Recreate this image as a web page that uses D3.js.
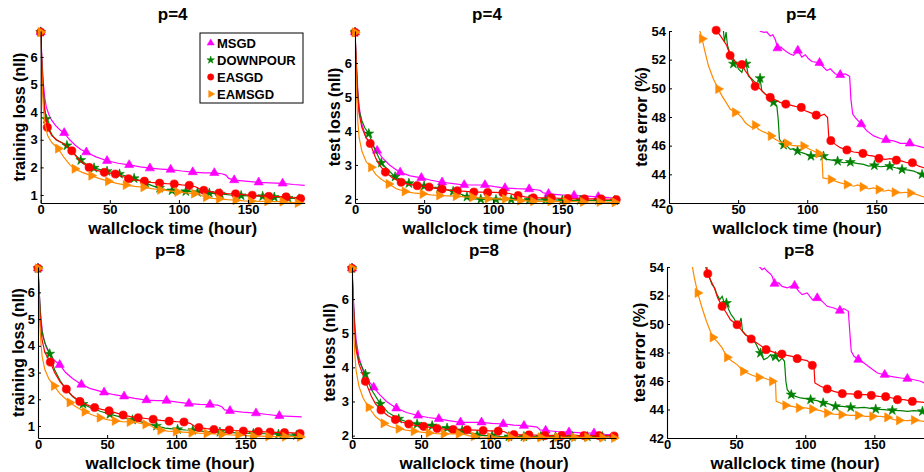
<!DOCTYPE html>
<html><head><meta charset="utf-8">
<script src="https://cdn.jsdelivr.net/npm/d3@7"></script>
<style>
body{margin:0;background:#fff}
svg{display:block;background:#fff}
text{font-family:"Liberation Sans",Arial,Helvetica,sans-serif;font-weight:bold;fill:#000}
</style>
</head><body>
<svg id="c" width="924" height="472"></svg>
<script>
// ---------------- data ----------------
const seriesNames = ["MSGD", "DOWNPOUR", "EASGD", "EAMSGD"];
const titles = ["p=4", "p=8"];
const yLabels = ["training loss (nll)", "test loss (nll)", "test error (%)"];
const xLabel = "wallclock time (hour)";
const xTicks = [0, 50, 100, 150];
const xDomain = [0, 191];
const trainTicks = [1, 2, 3, 4, 5, 6];
const testTicks = [2, 3, 4, 5, 6];
const errTicks = [42, 44, 46, 48, 50, 52, 54];
const yDomains = [[0.71, 6.94], [1.88, 6.94], [42, 54], [0.55, 6.95], [1.93, 6.94], [42, 54]];

// points: [hour, value, marker?]
const trainP4_MSGD = [[0,6.9,1],[1,5.8],[2,5.0],[3,4.5],[4,4.2],[6,3.9],[8,3.7],[11,3.5],[14,3.35],[17,3.25,1],[21,3.0],[25,2.8],[29,2.65],[33,2.55,1],[40,2.38],[48,2.24,1],[56,2.15],[64,2.09,1],[72,2.02],[79,1.97,1],[87,1.94],[94,1.92,1],[102,1.87],[110,1.83,1],[118,1.80],[125.6,1.80,1],[131,1.77],[134,1.72],[136,1.60],[140,1.54,1],[148,1.50],[157.7,1.46,1],[166,1.44],[175,1.42,1],[183,1.38],[191,1.35]];
const trainP4_DOWN = [[0,6.9,1],[1,5.6],[2,4.7],[3,4.1],[4,3.75,1],[6,3.4],[8,3.2],[11,3.0],[15,2.9],[19,2.79,1],[24,2.5],[29,2.26,1],[34,2.08],[38.6,1.98,1],[43,1.92],[48,1.86,1],[52,1.82],[57,1.76,1],[62,1.68],[67.6,1.6,1],[72,1.52],[76,1.43,1],[81,1.33],[86,1.25,1],[90,1.2],[95,1.16,1],[100,1.14],[105,1.13,1],[109,1.12],[113.5,1.1,1],[118,1.08],[122,1.07,1],[126,1.05],[130,1.04,1],[137,1.0],[145,0.98,1],[152,0.97],[160.6,0.95,1],[165,0.94],[169,0.92,1],[174,0.91],[179,0.89,1],[183,0.88],[187,0.86,1],[191,0.85]];
const trainP4_EASGD = [[0,6.9,1],[1,5.5],[2,4.6],[3,4.0],[4.8,3.45,1],[8,3.15],[12,2.98],[17,2.85],[22.5,2.6,1],[28,2.25],[35,2.0,1],[40,1.9],[46,1.82,1],[54,1.76,1],[59,1.68],[63.5,1.59,1],[69,1.54],[75,1.5,1],[80,1.46],[86,1.43,1],[91,1.41],[96.6,1.4,1],[102,1.37],[107.5,1.35,1],[112,1.3],[115,1.22],[118,1.17,1],[123,1.12],[129,1.07,1],[135,1.05],[141,1.04,1],[147,1.01],[153,0.99,1],[159,0.97],[165,0.95,1],[171,0.94],[177.5,0.93,1],[183,0.9],[188,0.87,1],[191,0.86]];
const trainP4_EAMSGD = [[0,6.9,1],[1,5.0],[2,4.1],[3,3.6],[5,3.15],[8,2.9],[12.6,2.68,1],[17,2.35],[21,2.1],[24.6,1.95,1],[30,1.82],[36.7,1.70,1],[42,1.6],[48.8,1.5,1],[55,1.42],[61.6,1.36,1],[68,1.31],[74.4,1.28,1],[80,1.23],[86.5,1.19,1],[93,1.15],[99,1.11,1],[105,1.08],[111,1.05,1],[115,1.0],[119.6,0.92,1],[124,0.88],[129,0.86,1],[135,0.83],[141,0.81,1],[147,0.79],[152,0.78,1],[158,0.77],[164,0.77,1],[170,0.76],[175,0.76,1],[181,0.73],[186,0.71,1],[191,0.71]];

const testP4_MSGD = [[0,6.9,1],[1,6.0],[2,5.2],[3,4.7],[5,4.2],[8,3.8],[12,3.6],[16,3.42,1],[20,3.2],[25,3.0],[29,2.88],[32.7,2.78,1],[40,2.68],[48,2.62,1],[55,2.55],[63,2.49,1],[71,2.45],[79,2.41,1],[86,2.41],[94,2.41,1],[101,2.36],[108.5,2.32,1],[117,2.3],[126,2.29,1],[131,2.27],[134,2.25],[136,2.18],[140,2.15,1],[149,2.12],[158.5,2.1,1],[167,2.08],[176,2.06,1],[184,2.04],[191,2.03]];
const testP4_DOWN = [[0,6.9,1],[1,5.9],[2,5.1],[3,4.6],[5,4.3],[7,4.1],[10,3.92,1],[14,3.5],[19,3.06,1],[24,2.85],[29,2.65,1],[34,2.55],[39,2.46,1],[45,2.41],[50,2.38,1],[56,2.33],[61,2.3,1],[66,2.27],[71,2.22,1],[76,2.15],[81,2.06,1],[86,2.0],[91,1.99,1],[97,1.98],[102,1.98,1],[108,1.98],[113,1.98,1],[120,1.97],[126,1.97,1],[132,1.97],[138,1.97,1],[145,1.97],[150,1.96,1],[157,1.96],[163,1.96,1],[170,1.96],[176,1.96,1],[182,1.95],[188,1.95,1],[191,1.95]];
const testP4_EASGD = [[0,6.9,1],[1,5.8],[2,5.0],[3,4.5],[5,4.1],[8,3.8],[11,3.63,1],[15,3.2],[18,2.98],[22,2.79,1],[27,2.62],[33.4,2.49,1],[39,2.43],[45,2.39,1],[53.6,2.35,1],[58,2.32],[63,2.29,1],[68,2.26],[74,2.24,1],[80,2.22],[86,2.2,1],[91,2.2],[96,2.19,1],[102,2.19],[107,2.18,1],[112,2.16],[115,2.12],[118,2.1,1],[123,2.06],[129,2.03,1],[135,2.03],[142,2.03,1],[148,2.02],[154,2.01,1],[160,2.0],[166,2.0,1],[172,2.0],[178,2.0,1],[184,1.99],[189,1.98,1],[191,1.98]];
const testP4_EAMSGD = [[0,6.9,1],[1,5.2],[2,4.3],[3,3.8],[5,3.4],[8,3.1],[11.7,2.93,1],[15,2.72],[19,2.58],[24.4,2.44,1],[30,2.3],[36,2.22,1],[42,2.18],[49,2.15,1],[55,2.12],[61,2.1,1],[67,2.09],[73,2.08,1],[79,2.06],[85,2.05,1],[90,2.03],[96,2.01,1],[102,2.0],[108.5,2.0,1],[113,1.99],[117,1.96],[119.5,1.95,1],[124,1.94],[129,1.93,1],[135,1.93],[141.5,1.93,1],[147,1.92],[152.4,1.92,1],[158,1.92],[165,1.91,1],[171,1.91],[177,1.91,1],[183,1.9],[188,1.9,1],[191,1.9]];

const errP4_MSGD = [[65,54.3],[66,53.98],[68.8,53.9],[70.8,53.93],[73.2,53.65],[75.1,53.74],[77.1,53.35],[78.5,52.8,1],[80.9,52.88],[82.9,52.71],[85.3,52.53],[87.7,52.4],[90.1,52.3],[93.2,52.64,1],[96.1,52.18],[98.6,52.34],[101,52.06],[103.4,51.87],[108.9,51.78,1],[111.8,51.47],[114.3,51.24],[116.7,51.36],[120.3,51.0],[123.9,50.94,1],[127.5,51.0],[130.7,50.84],[131.6,49.25],[132.9,48.2],[134.8,47.96],[139.1,47.5,1],[143.2,47.03],[148.1,46.68],[152.9,46.5],[157,46.4,1],[162.6,46.33],[167.4,46.16],[174.2,46.16,1],[179.5,45.98],[184.3,45.86],[188,45.9],[191,45.8]];
const errP4_DOWN = [[39.2,54.3],[39.4,54.0],[40.1,53.23],[41.3,53.93],[42.3,52.99],[44.2,52.41],[46.6,51.71,1],[48.6,51.82],[50.2,51.36],[52.7,51.12],[54.3,51.6],[55.8,51.71,1],[57.5,50.84],[59.9,50.65],[62.3,50.42],[64.7,50.14],[65.9,50.7,1],[67.1,49.84],[70.8,49.49],[74.4,49.25],[75.6,49.02,1],[78,48.78],[79,47.85],[79.9,46.44],[82.9,46.05,1],[85.3,45.98],[87.7,45.74],[90.1,45.79],[93,45.63,1],[96.1,45.51],[99.8,45.39],[102.7,45.27,1],[107,45.27],[111.8,45.27,1],[114.3,45.04],[117.9,44.99],[122,44.92,1],[126.3,44.81],[131.2,44.85,1],[136,44.76],[140.8,44.69],[144.4,44.57],[148.6,44.62,1],[152.9,44.53],[157.7,44.57],[159.7,44.57,1],[163.8,44.46],[168.6,44.34,1],[173.4,44.29],[177.1,44.22],[183.1,43.99,1],[186.7,44.1],[191,44.0]];
const errP4_EASGD = [[34.1,54.05,1],[37,53.7],[39.4,53.35],[41.8,52.99],[44.2,52.29,1],[46.6,52.06],[49,51.71],[52.7,51.66,1],[55.1,51.24],[58.7,50.77],[62.3,50.14,1],[64.7,50.07],[67.1,49.84],[69.6,49.6],[73.2,49.37,1],[76.8,49.2],[80.4,49.02],[84.5,48.9,1],[87.7,48.83],[91.3,48.74],[95.7,48.67,1],[98.6,48.43],[101.7,48.32],[106.5,48.13,1],[109.4,48.08],[112.3,48.2],[114.7,47.96],[115.7,46.44],[117.1,46.35,1],[120.3,46.09],[123.9,45.86],[128.7,45.7,1],[133.6,45.56],[137.2,45.51],[140.3,45.46,1],[144.4,45.32],[148.1,45.27],[151.9,45.11,1],[156.5,45.04],[160.1,45.09],[164.5,44.99,1],[168.6,44.92],[172.2,44.81],[176.1,44.81,1],[180.7,44.57],[184.3,44.46],[190.3,44.34]];
const errP4_EAMSGD = [[21.8,54.3],[22,54.12],[23.9,53.46,1],[26.1,52.53],[28.5,51.59],[32.1,50.65],[35.7,49.95,1],[38.2,49.49],[41.3,49.02],[44.2,48.55],[47.8,48.32,1],[50.2,48.2],[52.7,47.96],[55.1,47.61],[57.5,47.43],[59.9,47.26],[62.3,47.43,1],[64.7,47.15],[68.4,46.96],[70.8,46.87],[73.7,46.68,1],[76.8,46.44],[80.4,46.26],[85.3,46.16,1],[88.9,46.02],[92.5,45.98],[97.3,45.98,1],[101,45.79],[104.6,45.63],[108.2,45.46,1],[110.6,45.39],[111.4,43.75],[117.1,43.64,1],[120.3,43.52],[123.9,43.4],[128.7,43.29,1],[133.6,43.17],[136.5,43.26],[140.1,43.12,1],[144.4,42.98],[148.1,43.05],[151.7,42.94,1],[155.3,42.82],[158.9,42.89],[163.3,42.75,1],[167.4,42.7],[171,42.75],[174.6,42.7,1],[179.5,42.58],[184.3,42.42],[190.3,42.35]];

const trainP8_MSGD = [[0,6.9,1],[1,5.9],[2,5.1],[3,4.6],[4,4.3],[6,3.95],[9,3.65],[12,3.45],[15.7,3.29,1],[20,3.0],[25,2.78],[31.4,2.55,1],[38,2.4],[47.8,2.26,1],[55,2.17],[62.3,2.11,1],[70,2.03],[78.5,1.97,1],[86,1.95],[93,1.95,1],[101,1.89],[109.2,1.84,1],[117,1.81],[124.4,1.8,1],[130,1.78],[133,1.72],[135,1.6],[138.9,1.57,1],[148,1.52],[157.7,1.48,1],[166,1.43],[174.6,1.38,1],[183,1.36],[190.8,1.34]];
const trainP8_DOWN = [[0,6.9,1],[1,5.9],[2,5.0],[3,4.5],[5,4.1],[8.5,3.7,1],[12,3.1],[16,2.7],[20,2.4],[25,2.1],[32.6,1.82,1],[38,1.68],[45,1.55],[52,1.44,1],[58,1.36],[63,1.29],[68.4,1.23,1],[74,1.16],[80,1.08],[85.7,1.0,1],[92,0.92],[101,0.87,1],[107,0.85],[112,0.84,1],[120,0.8],[131.6,0.77,1],[140,0.75],[148,0.73],[155.8,0.72,1],[165,0.71],[174,0.69,1],[181,0.67],[187,0.65,1],[191,0.65]];
const trainP8_EASGD = [[0,6.9,1],[1,5.6],[2,4.7],[3,4.2],[5,3.75],[8.9,3.39,1],[12,3.0],[16,2.65],[20.5,2.38,1],[25,2.12],[30.2,1.92,1],[35,1.8],[41,1.69,1],[46,1.62],[51.4,1.57,1],[57,1.48],[61.6,1.41,1],[67,1.35],[72.5,1.31,1],[78,1.28],[83.3,1.25,1],[89,1.21],[94.9,1.18,1],[100,1.16],[105.6,1.15,1],[110,1.1],[113,1.0],[116.4,0.94,1],[122,0.9],[127.3,0.87,1],[133,0.86],[138.4,0.85,1],[143,0.83],[148.6,0.81,1],[154,0.8],[159.4,0.79,1],[164,0.78],[167.9,0.77,1],[173,0.76],[178.3,0.75,1],[184,0.74],[189.6,0.72,1],[191,0.72]];
const trainP8_EAMSGD = [[0,6.9,1],[1,5.2],[2,4.2],[3,3.6],[5,3.1],[8,2.75],[11.6,2.5,1],[16,2.2],[22.9,1.88,1],[28,1.7],[33.8,1.53,1],[39,1.42],[44.7,1.31,1],[50,1.24],[55.6,1.19,1],[61,1.16],[66.4,1.15,1],[72,1.12],[77.8,1.06,1],[82,1.0],[85,0.9],[88.6,0.84,1],[94,0.81],[99.8,0.79,1],[105,0.77],[111.1,0.75,1],[116,0.73],[122,0.72,1],[127,0.7],[132.9,0.69,1],[139,0.67],[144.9,0.66,1],[150,0.64],[155.8,0.62,1],[161,0.62],[166.7,0.61,1],[172,0.6],[178.7,0.6,1],[184,0.6],[189.6,0.59,1],[191,0.59]];

const testP8_MSGD = [[0,6.9,1],[1,6.0],[2,5.3],[3,4.8],[5,4.3],[8,3.9],[12,3.6],[15.7,3.41,1],[20,3.2],[25,3.0],[32.1,2.8,1],[40,2.67],[47.8,2.59,1],[55,2.53],[62.8,2.49,1],[70,2.44],[78.5,2.39,1],[86,2.39],[93.7,2.39,1],[101,2.36],[109.4,2.34,1],[117,2.31],[124.4,2.29,1],[130,2.27],[134,2.25],[136,2.17],[140.1,2.15,1],[148,2.12],[157,2.1,1],[166,2.08],[175.1,2.07,1],[183,2.04],[191,2.02]];
const testP8_DOWN = [[0,6.9,1],[1,5.9],[2,5.1],[3,4.6],[5,4.2],[9.7,3.8,1],[14,3.35],[20.5,2.93,1],[26,2.68],[33.8,2.49,1],[40,2.4],[47.1,2.34,1],[52,2.31],[58,2.29,1],[63,2.26],[68.8,2.22,1],[74,2.19],[79.7,2.15,1],[84,2.1],[87,2.04],[90.6,2.02,1],[96,2.0],[101.4,2.0,1],[107,1.98],[113.5,1.97,1],[119,1.97],[124.4,1.97,1],[130,1.97],[136.5,1.97,1],[142,1.97],[147.3,1.97,1],[153,1.97],[159.4,1.97,1],[165,1.97],[170.3,1.97,1],[176,1.97],[181.2,1.97,1],[186,1.96],[191,1.96]];
const testP8_EASGD = [[0,6.9,1],[1,5.8],[2,5.0],[3,4.5],[5,4.1],[9.7,3.59,1],[14,3.15],[17,2.93],[21,2.75,1],[26,2.58],[31.4,2.47,1],[36,2.4],[41.1,2.34,1],[46,2.3],[51.9,2.27,1],[57,2.24],[61.6,2.21,1],[67,2.19],[73.2,2.18,1],[78,2.17],[83.3,2.17,1],[89,2.16],[94.9,2.15,1],[100,2.14],[105.8,2.13,1],[110,2.12],[113,2.06],[117.1,2.03,1],[123,2.02],[128,2.02,1],[134,2.01],[139.6,2.0,1],[146,2.0],[151.7,2.0,1],[160,2.0],[167.9,2.0,1],[173,2.0],[178.7,2.0,1],[184,2.0],[189.6,1.99,1],[191,1.99]];
const testP8_EAMSGD = [[0,6.9,1],[1,5.3],[2,4.4],[3,3.9],[5,3.45],[8,3.1],[12.1,2.83,1],[17,2.56],[22.9,2.36,1],[28,2.26],[33.8,2.2,1],[39,2.16],[44.7,2.13,1],[50,2.1],[55.6,2.08,1],[61,2.06],[66.4,2.05,1],[72,2.05],[77.3,2.05,1],[82,2.03],[85,1.99],[88.2,1.98,1],[94,1.96],[100.2,1.95,1],[107,1.95],[114.7,1.95,1],[120,1.95],[125.6,1.95,1],[131,1.95],[136.5,1.95,1],[142,1.95],[148.6,1.95,1],[155,1.95],[160.6,1.95,1],[165,1.95],[170.3,1.95,1],[176,1.94],[181.2,1.94,1],[186,1.93],[189.6,1.93,1],[191,1.93]];

const errP8_MSGD = [[65.2,54.12],[67.1,54.0],[68.8,53.81],[70.5,53.93],[72.5,53.7],[74.9,53.51],[76.1,53.35],[77.8,52.83,1],[80.9,52.88],[83.3,52.64],[87,52.53],[89.4,52.64],[92.3,52.69,1],[95.4,52.29],[97.8,52.06],[101.4,52.18],[105.1,51.71],[108.7,51.82,1],[112.3,51.59],[115.9,51.24],[120.8,51.12],[125.1,50.94,1],[128,51.08],[131.2,50.89],[132.4,49.25],[133.3,48.08],[135.3,47.73],[138.4,47.5,1],[142.5,47.26],[147.3,46.91],[152.2,46.56],[157.5,46.44,1],[161.8,46.33],[169.1,46.21],[173.9,46.16,1],[178.7,46.09],[183.6,45.98],[186,45.86],[191,45.86]];
const errP8_DOWN = [[28.5,54.2],[29.5,53.58],[30.9,53.23],[32.6,52.76],[34.5,52.53],[36.2,52.06],[38.2,51.71],[39.9,51.94],[41.1,51.59],[43,51.47,1],[44.7,51.0],[46.4,50.65],[48.3,50.42],[50.2,50.07],[51.9,49.95],[53.6,50.42],[54.6,49.49],[56.8,49.25],[59.2,49.13],[61.6,48.9],[64,48.67],[66.4,48.2],[67.6,47.96,1],[70,47.5],[72.5,47.61],[74.9,47.85],[76.8,47.5],[78.5,47.73,1],[80.9,47.38],[83.3,47.61],[85,47.38],[86,45.98],[87,45.39],[89.9,45.04,1],[93,44.92],[96.6,44.81],[100.2,44.76],[103.9,44.69,1],[108.7,44.62],[113,44.46,1],[117.1,44.39],[121.9,44.22,1],[126.8,44.22],[132.9,44.15,1],[137.7,44.11],[142.5,44.15],[151,44.03,1],[157,43.99],[163,43.94,1],[169.1,43.92],[173.9,43.87],[178.7,43.92],[184.8,43.87,1],[191,43.87]];
const errP8_EASGD = [[27.8,54.05],[29.5,53.53,1],[31.4,53.11],[34.3,52.53],[36.7,51.82],[39.9,51.24,1],[43,50.77],[45.9,50.3],[50.7,49.95,1],[53.6,49.6],[56.8,49.25],[60.9,48.95,1],[64,48.74],[67.6,48.5],[71.7,48.2,1],[75.4,48.08],[79.2,47.96],[83.1,47.89,1],[87,47.8],[90.6,47.73],[94.2,47.57,1],[97.8,47.5],[101.4,47.43],[105.1,47.1,1],[106.3,47.03],[107,45.86],[111.1,45.63],[115.9,45.44,1],[120.8,45.27],[126.8,45.11,1],[132.9,45.09],[138.2,45.04,1],[143.7,45.04],[147.8,44.99,1],[153.4,44.92],[158.2,44.9,1],[163,44.81],[166.7,44.69,1],[171.5,44.69],[177.5,44.57,1],[182.4,44.53],[186,44.5],[191,44.46]];
const errP8_EAMSGD = [[18.1,54.16],[19.8,53.23],[22.2,52.18,1],[25.4,51.12],[28.5,50.19],[33.1,49.06,1],[36.2,48.78],[39.9,48.32],[43.5,47.66,1],[47.1,47.38],[50.7,47.15],[53.1,46.91],[55.1,46.68,1],[58,46.56],[61.6,46.4],[66.4,46.26,1],[70,46.21],[73.7,46.09],[76.1,45.98,1],[78.5,45.86],[79,44.57],[82.1,44.46],[85.7,44.29,1],[90.6,44.22],[95.4,44.11,1],[100.2,44.11],[105.1,44.03,1],[111.1,43.92],[115.9,43.75,1],[120.8,43.68],[126.3,43.64,1],[132.9,43.59],[138.2,43.59,1],[143.7,43.52],[148.6,43.52,1],[154.6,43.52],[159.4,43.45,1],[164.3,43.29],[167.9,43.24,1],[173.9,43.22],[178.7,43.26,1],[186,43.17],[191,43.12]];

// ---------------- styles / layout ----------------
const colors = ["#ff00ff", "#008000", "#ff0000", "#ff8a00"];
const panels = [
  {x0: 40.7, top: 31, bottom: 203, yTicks: trainTicks, yDomain: yDomains[0], ylab: yLabels[0], title: titles[0], yOff: 21, series: [trainP4_MSGD, trainP4_DOWN, trainP4_EASGD, trainP4_EAMSGD], legend: true},
  {x0: 355, top: 31, bottom: 203, yTicks: testTicks, yDomain: yDomains[1], ylab: yLabels[1], title: titles[0], yOff: 21, series: [testP4_MSGD, testP4_DOWN, testP4_EASGD, testP4_EAMSGD]},
  {x0: 669, top: 31, bottom: 203, yTicks: errTicks, yDomain: yDomains[2], ylab: yLabels[2], title: titles[0], yOff: 28, series: [errP4_MSGD, errP4_DOWN, errP4_EASGD, errP4_EAMSGD]},
  {x0: 38, top: 267, bottom: 438, yTicks: trainTicks, yDomain: yDomains[3], ylab: yLabels[0], title: titles[1], yOff: 20, series: [trainP8_MSGD, trainP8_DOWN, trainP8_EASGD, trainP8_EAMSGD]},
  {x0: 352, top: 267, bottom: 438, yTicks: testTicks, yDomain: yDomains[4], ylab: yLabels[1], title: titles[1], yOff: 23, series: [testP8_MSGD, testP8_DOWN, testP8_EASGD, testP8_EAMSGD]},
  {x0: 667, top: 267, bottom: 438, yTicks: errTicks, yDomain: yDomains[5], ylab: yLabels[2], title: titles[1], yOff: 28, series: [errP8_MSGD, errP8_DOWN, errP8_EASGD, errP8_EAMSGD]}
];
const W = 264;

const svg = d3.select("#c");
const defs = svg.append("defs");

function markerPath(k, scale) {
  const s = scale || 1;
  if (k === 0) return d3.symbol().type(d3.symbolTriangle).size(36 * s)();
  if (k === 1) return d3.symbol().type(d3.symbolStar).size(30 * s)();
  if (k === 2) return d3.symbol().type(d3.symbolCircle).size(52 * s)();
  return d3.symbol().type(d3.symbolTriangle).size(36 * s)();
}
function markerTransform(k, px, py) {
  return k === 3 ? `translate(${px},${py}) rotate(90)` : `translate(${px},${py})`;
}

panels.forEach((p, i) => {
  const x = d3.scaleLinear().domain(xDomain).range([p.x0, p.x0 + W]);
  const y = d3.scaleLinear().domain(p.yDomain).range([p.bottom, p.top]);
  const g = svg.append("g");
  const cid = "clip" + i;
  defs.append("clipPath").attr("id", cid).append("rect")
    .attr("x", p.x0).attr("y", p.top).attr("width", W + 20).attr("height", p.bottom - p.top);

  // series
  const line = d3.line().x(d => x(d[0])).y(d => y(d[1]));
  p.series.forEach((data, k) => {
    g.append("path").datum(data).attr("d", line)
      .attr("fill", "none").attr("stroke", colors[k]).attr("stroke-width", 1.2)
      .attr("clip-path", `url(#${cid})`);
    g.selectAll(null).data(data.filter(d => d[2])).enter().append("path")
      .attr("d", markerPath(k))
      .attr("transform", d => markerTransform(k, x(d[0]), y(d[1])))
      .attr("fill", colors[k]).attr("stroke", colors[k]).attr("stroke-width", 0.6);
  });

  // axes
  const ax = g.append("g").attr("transform", `translate(0,${p.bottom})`)
    .call(d3.axisBottom(x).tickValues(xTicks).tickFormat(d3.format("d"))
      .tickSizeInner(-3).tickSizeOuter(0).tickPadding(2));
  const ay = g.append("g").attr("transform", `translate(${p.x0},0)`)
    .call(d3.axisLeft(y).tickValues(p.yTicks).tickFormat(d3.format("d"))
      .tickSizeInner(-3).tickSizeOuter(0).tickPadding(3));
  [ax, ay].forEach(a => {
    a.selectAll("path.domain").attr("stroke", "#000").attr("stroke-width", 1.1);
    a.selectAll(".tick line").attr("stroke", "#000");
    a.selectAll("text").attr("font-size", 13).attr("fill", "#000")
      .style("font-family", '"Liberation Sans",Arial,sans-serif').style("font-weight", "bold");
  });

  // titles & labels
  g.append("text").attr("x", p.x0 + W / 2).attr("y", p.top - 11)
    .attr("text-anchor", "middle").attr("font-size", 17).text(p.title);
  g.append("text").attr("x", p.x0 + W / 2 - (i % 3 === 2 ? 4 : 0)).attr("y", p.bottom + 31)
    .attr("text-anchor", "middle").attr("font-size", 17).text(xLabel);
  g.append("text")
    .attr("transform", `translate(${p.x0 - p.yOff},${(p.top + p.bottom) / 2}) rotate(-90)`)
    .attr("text-anchor", "middle").attr("dy", "0.36em").attr("font-size", 16).text(p.ylab);

  if (p.legend) {
    const lg = g.append("g");
    lg.append("rect").attr("x", 200).attr("y", 33).attr("width", 103).attr("height", 70)
      .attr("fill", "#fff").attr("stroke", "#000").attr("stroke-width", 1);
    const rowY = d3.scalePoint().domain(seriesNames).range([43, 94]);
    seriesNames.forEach((nm, k) => {
      lg.append("path").attr("d", markerPath(k, 0.6))
        .attr("transform", markerTransform(k, 210.7, rowY(nm)))
        .attr("fill", colors[k]).attr("stroke", colors[k]).attr("stroke-width", 0.5);
      lg.append("text").attr("x", 217).attr("y", rowY(nm)).attr("dy", "0.36em")
        .attr("font-size", 13).text(nm);
    });
  }
});
</script>
</body></html>
